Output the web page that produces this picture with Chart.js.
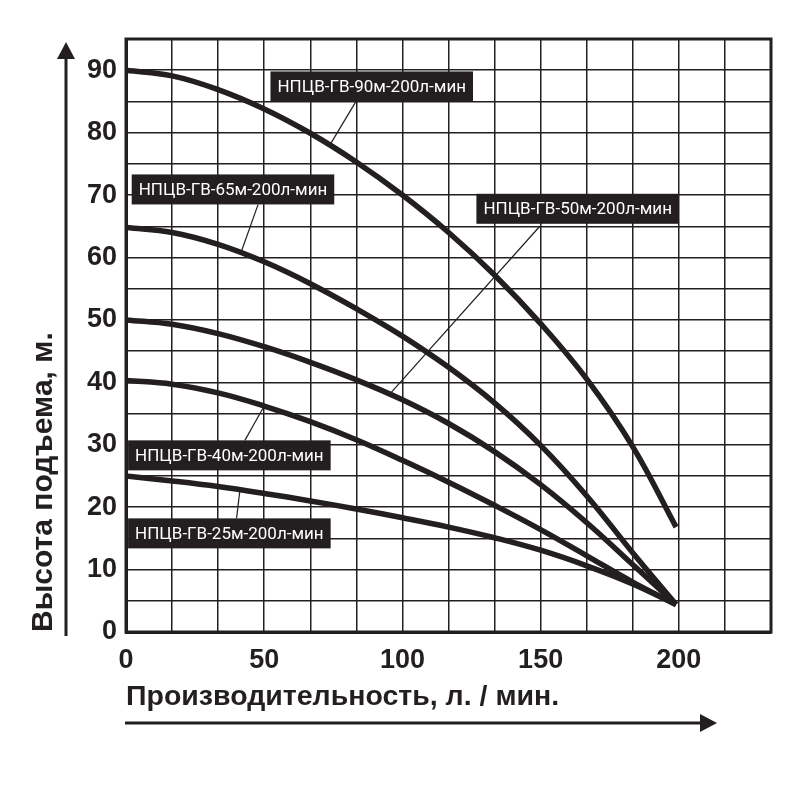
<!DOCTYPE html>
<html>
<head>
<meta charset="utf-8">
<script src="https://cdn.jsdelivr.net/npm/chart.js@4"></script>
<style>
html, body { margin: 0; padding: 0; background: #fff; }
</style>
</head>
<body>
<canvas id="pumpChart" width="800" height="800"></canvas>
<script>
// flow, l/min
const flow = [0, 16.7, 33.3, 50, 66.7, 83.3, 100, 116.7, 133.3, 150, 166.7, 183.3, 199];
// head, m
const head90 = [90, 89.1, 86.9, 83.8, 79.9, 75.3, 70, 64, 57.2, 49.4, 40.5, 29.7, 16.8];
const head65 = [64.8, 64, 62.1, 59.3, 55.8, 51.8, 47.4, 42.4, 36.7, 29.9, 21.8, 12.7, 4.4];
const head50 = [50, 49.3, 47.8, 45.7, 43.2, 40.4, 37.2, 33.4, 28.9, 23.6, 17.5, 10.8, 4.4];
const head40 = [40.3, 39.7, 38.3, 36.2, 33.7, 30.8, 27.5, 24, 20.3, 16.4, 12.2, 8, 4.4];
const head25 = [25, 24.2, 23.3, 22.2, 21, 19.7, 18.3, 16.8, 15.1, 13.1, 10.6, 7.7, 4.4];

const models = ['НПЦВ-ГВ-90м-200л-мин', 'НПЦВ-ГВ-65м-200л-мин', 'НПЦВ-ГВ-50м-200л-мин', 'НПЦВ-ГВ-40м-200л-мин', 'НПЦВ-ГВ-25м-200л-мин'];
const flowTicks = [0, 50, 100, 150, 200];
const headTicks = [0, 10, 20, 30, 40, 50, 60, 70, 80, 90];

// label boxes and leader lines, in data units
const callouts = [
    { text: models[0], box: [88.9, 87.4], from: [83.2, 85.0], to: [74, 78.2] },
    { text: models[1], box: [38.7, 70.9], from: [47.8, 68.5], to: [41.6, 60.8] },
    { text: models[2], box: [163.4, 67.8], from: [149.7, 65], to: [95.4, 38.1] },
    { text: models[3], box: [37.4, 28.3], from: [43, 30.7], to: [50, 36.2] },
    { text: models[4], box: [37.4, 15.8], from: [40, 18.2], to: [41.2, 22.7] }
];

const ink = '#231f20';
const gridSteps = Array.from({ length: 15 }, (_, i) => i * 50 / 3);

const calloutPlugin = {
    id: 'callouts',
    afterDatasetsDraw(chart) {
        const { ctx, chartArea: a, scales: { x, y } } = chart;
        ctx.save();
        ctx.lineWidth = 3;
        ctx.strokeStyle = ink;
        ctx.strokeRect(a.left, a.top, a.right - a.left, a.bottom - a.top);

        ctx.font = '17px Roboto';
        ctx.textAlign = 'center';
        ctx.textBaseline = 'middle';
        callouts.forEach(c => {
            ctx.lineWidth = 1.2;
            ctx.strokeStyle = ink;
            ctx.beginPath();
            ctx.moveTo(x.getPixelForValue(c.from[0]), y.getPixelForValue(c.from[1]));
            ctx.lineTo(x.getPixelForValue(c.to[0]), y.getPixelForValue(c.to[1]));
            ctx.stroke();
            const w = ctx.measureText(c.text).width + 14, h = 30;
            const cx = x.getPixelForValue(c.box[0]), cy = y.getPixelForValue(c.box[1]);
            ctx.fillStyle = ink;
            ctx.fillRect(cx - w / 2, cy - h / 2, w, h);
            ctx.fillStyle = '#fff';
            ctx.fillText(c.text, cx, cy + 1);
        });
        ctx.restore();
    },
    afterDraw(chart) {
        const { ctx, chartArea: a } = chart;
        ctx.save();
        ctx.strokeStyle = ink;
        ctx.fillStyle = ink;
        ctx.lineWidth = 3;
        // vertical arrow
        const ax = a.left - 60;
        ctx.beginPath();
        ctx.moveTo(ax, a.bottom + 4);
        ctx.lineTo(ax, a.top + 18);
        ctx.stroke();
        ctx.beginPath();
        ctx.moveTo(ax, a.top + 3);
        ctx.lineTo(ax - 9, a.top + 20);
        ctx.lineTo(ax + 9, a.top + 20);
        ctx.closePath();
        ctx.fill();
        // horizontal arrow
        const ay = a.bottom + 91;
        ctx.beginPath();
        ctx.moveTo(a.left - 1, ay);
        ctx.lineTo(a.right - 70, ay);
        ctx.stroke();
        ctx.beginPath();
        ctx.moveTo(a.right - 54, ay);
        ctx.lineTo(a.right - 71, ay - 9);
        ctx.lineTo(a.right - 71, ay + 9);
        ctx.closePath();
        ctx.fill();
        ctx.restore();
    }
};

const series = [head90, head65, head50, head40, head25];

new Chart(document.getElementById('pumpChart'), {
    type: 'line',
    data: {
        datasets: series.map((s, i) => ({
            label: models[i],
            data: s.map((v, j) => ({ x: flow[j], y: v })),
            borderColor: ink,
            borderWidth: 5.5,
            pointRadius: 0,
            fill: false,
            tension: 0.4
        }))
    },
    options: {
        responsive: false,
        animation: false,
        layout: { padding: { top: 39, right: 29, left: 0, bottom: 0 } },
        plugins: { legend: { display: false }, tooltip: { enabled: false } },
        scales: {
            x: {
                type: 'linear',
                min: 0,
                max: 700 / 3,
                afterFit: s => { s.height = 168; },
                afterBuildTicks: s => { s.ticks = gridSteps.map(v => ({ value: v })); },
                grid: { color: ink, lineWidth: 1.5, drawTicks: false },
                border: { display: true, color: ink, width: 3 },
                ticks: {
                    autoSkip: false,
                    maxRotation: 0,
                    padding: 12,
                    color: ink,
                    font: { family: 'Liberation Sans', size: 27, weight: 'bold' },
                    callback: v => { const t = flowTicks.find(f => Math.abs(f - v) < 0.01); return t === undefined ? '' : t; }
                },
                title: {
                    display: true,
                    text: 'Производительность, л. / мин.',
                    align: 'start',
                    color: ink,
                    font: { family: 'Liberation Sans', size: 28.5, weight: 'bold' },
                    padding: { top: 0, bottom: 86 }
                }
            },
            y: {
                min: 0,
                max: 95,
                afterFit: s => { s.width = 126; },
                grid: { color: ink, lineWidth: 1.5, drawTicks: false },
                border: { display: true, color: ink, width: 3 },
                ticks: {
                    stepSize: 5,
                    autoSkip: false,
                    padding: 9,
                    color: ink,
                    font: { family: 'Liberation Sans', size: 27, weight: 'bold' },
                    callback: v => headTicks.includes(v) ? v : ''
                },
                title: {
                    display: true,
                    text: 'Высота подъема, м.',
                    align: 'start',
                    color: ink,
                    font: { family: 'Liberation Sans', size: 30, weight: 'bold' },
                    padding: { top: 26, bottom: 0 }
                }
            }
        }
    },
    plugins: [calloutPlugin]
});
</script>
</body>
</html>
